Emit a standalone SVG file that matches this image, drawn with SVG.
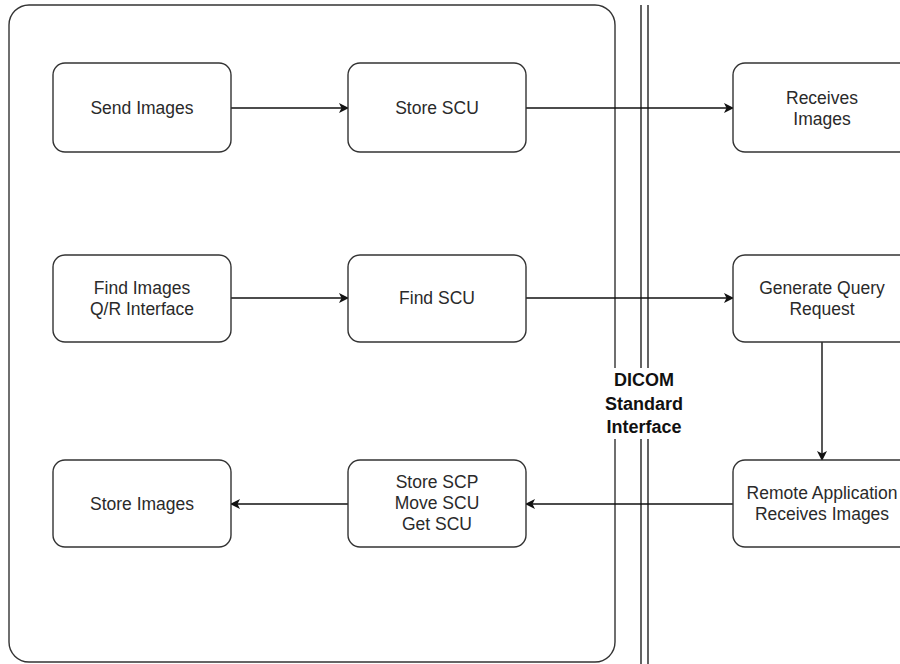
<svg xmlns="http://www.w3.org/2000/svg" width="900" height="664" viewBox="0 0 900 664">
  <style>
    .box { fill: #ffffff; stroke: #333333; stroke-width: 1.4; }
    .lbl { font-family: "Liberation Sans", Arial, sans-serif; font-size: 17.5px; fill: #2a2a2a; text-anchor: middle; }
    .bold { font-weight: bold; font-size: 18px; fill: #111111; }
    .wire { fill: none; stroke: #111111; stroke-width: 1.4; }
  </style>
  <defs>
    <marker id="arrow" viewBox="0 0 10 10" refX="9" refY="5" markerWidth="10" markerHeight="10" markerUnits="userSpaceOnUse" orient="auto">
      <path d="M0,0 L10,5 L0,10 L2.5,5 Z" fill="#111111"/>
    </marker>
  </defs>
  <rect width="900" height="664" fill="#ffffff"/>

  <!-- local application container -->
  <g id="container">
    <rect class="box" x="9" y="5" width="606" height="657" rx="20" ry="20" fill="none"/>
  </g>

  <!-- interface boundary (double line) -->
  <g id="boundary">
    <line x1="641" y1="5" x2="641" y2="664" stroke="#222" stroke-width="1.4"/>
    <line x1="648" y1="5" x2="648" y2="664" stroke="#222" stroke-width="1.4"/>
  </g>

  <g id="connectors">
    <path class="wire" d="M231,108 L348,108" marker-end="url(#arrow)"/>
    <path class="wire" d="M526,108 L733,108" marker-end="url(#arrow)"/>
    <path class="wire" d="M231,298 L348,298" marker-end="url(#arrow)"/>
    <path class="wire" d="M526,298 L733,298" marker-end="url(#arrow)"/>
    <path class="wire" d="M822,342 L822,460" marker-end="url(#arrow)"/>
    <path class="wire" d="M733,504 L526,504" marker-end="url(#arrow)"/>
    <path class="wire" d="M348,504 L231,504" marker-end="url(#arrow)"/>
  </g>

  <g id="send-images">
    <rect class="box" x="53" y="63" width="178" height="89" rx="12"/>
    <text class="lbl" x="142" y="114">Send Images</text>
  </g>
  <g id="store-scu">
    <rect class="box" x="348" y="63" width="178" height="89" rx="12"/>
    <text class="lbl" x="437" y="114">Store SCU</text>
  </g>
  <g id="receives-images">
    <rect class="box" x="733" y="63" width="190" height="89" rx="12"/>
    <text class="lbl" x="822" y="104">Receives</text>
    <text class="lbl" x="822" y="125">Images</text>
  </g>

  <g id="find-images">
    <rect class="box" x="53" y="255" width="178" height="87" rx="12"/>
    <text class="lbl" x="142" y="294">Find Images</text>
    <text class="lbl" x="142" y="315">Q/R Interface</text>
  </g>
  <g id="find-scu">
    <rect class="box" x="348" y="255" width="178" height="87" rx="12"/>
    <text class="lbl" x="437" y="304">Find SCU</text>
  </g>
  <g id="generate-query">
    <rect class="box" x="733" y="255" width="190" height="87" rx="12"/>
    <text class="lbl" x="822" y="294">Generate Query</text>
    <text class="lbl" x="822" y="315">Request</text>
  </g>

  <g id="store-images">
    <rect class="box" x="53" y="460" width="178" height="87" rx="12"/>
    <text class="lbl" x="142" y="510">Store Images</text>
  </g>
  <g id="store-scp">
    <rect class="box" x="348" y="460" width="178" height="87" rx="12"/>
    <text class="lbl" x="437" y="488">Store SCP</text>
    <text class="lbl" x="437" y="509">Move SCU</text>
    <text class="lbl" x="437" y="530">Get SCU</text>
  </g>
  <g id="remote-application">
    <rect class="box" x="733" y="460" width="190" height="87" rx="12"/>
    <text class="lbl" x="822" y="499">Remote Application</text>
    <text class="lbl" x="822" y="520">Receives Images</text>
  </g>

  <!-- boundary label with white backing -->
  <g id="dicom-label">
    <rect x="599" y="368" width="90" height="71" fill="#ffffff"/>
    <text class="lbl bold" x="644" y="386">DICOM</text>
    <text class="lbl bold" x="644" y="410">Standard</text>
    <text class="lbl bold" x="644" y="433">Interface</text>
  </g>
</svg>
